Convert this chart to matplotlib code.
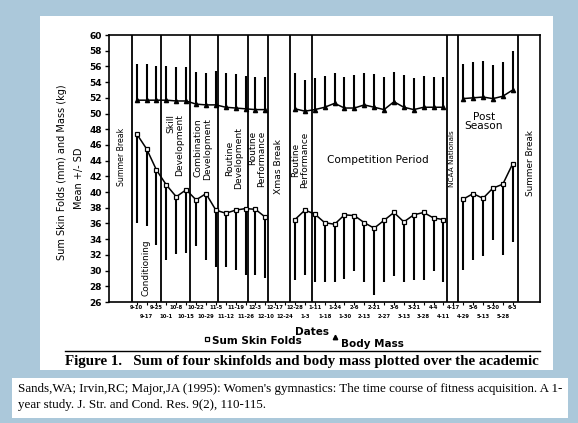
import matplotlib.pyplot as plt
import numpy as np
from matplotlib.patches import Rectangle
from matplotlib.lines import Line2D

W, H = 578, 423
nan = np.nan

# weekly measurement dates (gaps = no testing)
dates = ['9-10', '9-17', '9-25', '10-1', '10-8', '10-15', '10-22', '10-29',
         '11-5', '11-12', '11-19', '11-26', '12-3', '12-10', '12-17', '12-24',
         '12-28', '1-3', '1-11', '1-18', '1-24', '1-30', '2-6', '2-13', '2-21',
         '2-27', '3-6', '3-13', '3-21', '3-28', '4-4', '4-11', '4-17', '4-29',
         '5-6', '5-13', '5-20', '5-28', '6-3']

skinfold_mean = [47.4, 45.5, 42.8, 40.9, 39.4, 40.3, 39.0, 39.8, 37.7, 37.3,
                 37.7, 37.9, 37.8, 36.8, nan, nan, 36.5, 37.7, 37.2, 36.1,
                 35.9, 37.1, 37.0, 36.1, 35.4, 36.4, 37.4, 36.2, 37.1, 37.4,
                 36.7, 36.5, nan, 39.1, 39.8, 39.2, 40.5, 41.0, 43.6]
skinfold_sd = [11.4, 9.8, 9.5, 9.5, 7.3, 8.1, 5.9, 8.4, 7.2, 6.9,
               7.6, 8.4, 8.3, 7.8, nan, nan, 7.7, 8.2, 8.6, 7.5,
               7.3, 8.2, 7.1, 7.5, 8.5, 7.8, 8.1, 7.6, 8.3, 8.6,
               6.8, 7.9, nan, 9.0, 8.4, 7.3, 6.6, 9.0, 10.0]

mass_mean = [51.7, 51.7, 51.7, 51.7, 51.6, 51.6, 51.2, 51.1, 51.1, 50.8,
             50.7, 50.6, 50.5, 50.5, nan, nan, 50.6, 50.3, 50.5, 50.8,
             51.3, 50.7, 50.7, 51.1, 50.8, 50.5, 51.5, 50.8, 50.5, 50.8,
             50.8, 50.8, nan, 51.9, 52.0, 52.1, 51.9, 52.2, 53.0]
mass_sd = [4.6, 4.6, 4.4, 4.4, 4.3, 4.3, 4.1, 4.1, 4.3, 4.4,
           4.3, 4.2, 4.1, 4.1, nan, nan, 4.6, 4.0, 4.0, 4.0,
           3.8, 4.0, 4.2, 4.1, 4.2, 4.2, 3.8, 4.1, 4.0, 4.0,
           3.9, 3.9, nan, 4.4, 4.5, 4.6, 4.3, 4.4, 5.0]

# training phase boundaries (in week slots)
phase_edges = [-0.47, 2.46, 5.39, 8.22, 11.25, 13.27, 15.49, 17.71, 31.36, 32.47, 38.53]

NARROW = ['Liberation Sans Narrow', 'DejaVu Sans']


def fx(px):
    return px / W


def fy(py):
    return 1 - py / H


fig = plt.figure(figsize=(W / 100, H / 100), dpi=100, facecolor='#abc8da')

# white paper panels
fig.add_artist(Rectangle((fx(40), fy(370)), (553 - 40) / W, (370 - 16) / H,
                         transform=fig.transFigure, facecolor='white', edgecolor='none', zorder=0))
fig.add_artist(Rectangle((fx(12), fy(418)), (568 - 12) / W, (418 - 378) / H,
                         transform=fig.transFigure, facecolor='white', edgecolor='none', zorder=0))

ax = fig.add_axes([fx(109), fy(302), (540 - 109) / W, (302 - 35) / H])
ax.set_facecolor('white')

x = np.arange(len(dates))
sf = np.array(skinfold_mean)
sf_sd = np.array(skinfold_sd)
bm = np.array(mass_mean)
bm_sd = np.array(mass_sd)
ok = ~np.isnan(sf)

for e in phase_edges:
    ax.axvline(e, color='black', lw=1.3, zorder=1)

ax.vlines(x[ok], sf[ok] - sf_sd[ok], sf[ok], color='black', lw=1.5, zorder=2)
ax.vlines(x[ok], bm[ok], bm[ok] + bm_sd[ok], color='black', lw=1.5, zorder=2)
ax.plot(x, sf, color='black', lw=1.1, marker='s', ms=3.4, mfc='white', mec='black', mew=0.9, zorder=3)
ax.plot(x, bm, color='black', lw=1.1, marker='^', ms=3.0, mfc='black', mec='black', zorder=3)

phase_labels = [
    ('Summer Break', -1.49, 44.5, 5.6, 'center'),
    ('Conditioning', 0.94, 30.3, 6.4, 'center'),
    ('Skill\nDevelopment', 3.87, 46.0, 6.6, 'right'),
    ('Combination\nDevelopment', 6.7, 45.5, 6.6, 'right'),
    ('Routine\nDevelopment', 9.83, 44.3, 6.6, 'center'),
    ('Routine\nPerformance', 12.16, 44.2, 6.4, 'right'),
    ('Xmas Break', 14.3, 43.2, 6.6, 'center'),
    ('Routine\nPerformance', 16.5, 44.1, 6.4, 'center'),
    ('NCAA Nationals', 31.9, 44.3, 5.2, 'center'),
    ('Summer Break', 39.8, 43.7, 6.4, 'center'),
]
for txt, px_, py_, fs, ma in phase_labels:
    ax.text(px_, py_, txt, rotation=90, ha='center', va='center', multialignment=ma,
            fontsize=fs, family=NARROW, linespacing=1.0, zorder=4)
ax.text(24.4, 44.1, 'Competition Period', ha='center', va='center', fontsize=7.6, family=NARROW)
ax.text(35.1, 49.0, 'Post\nSeason', ha='center', va='center', fontsize=7.6, family=NARROW, linespacing=0.95)

ax.set_xlim(-2.8, 40.76)
ax.set_ylim(26, 60)
ax.set_yticks(np.arange(26, 61, 2))
ax.set_xticks(x[::2], dates[::2])
ax.set_xticks(x[1::2], dates[1::2], minor=True)
ax.tick_params(axis='y', length=3, width=1, pad=2, labelsize=6.5)
ax.tick_params(axis='x', which='major', length=2, width=0.8, pad=0.5, labelsize=3.8)
ax.tick_params(axis='x', which='minor', length=2, width=0.8, pad=6.5, labelsize=3.8)
for lab in ax.get_yticklabels() + ax.get_xticklabels() + ax.get_xticklabels(minor=True):
    lab.set_fontweight('bold')
for s in ax.spines.values():
    s.set_linewidth(1.2)

ax.set_xlabel('Dates', fontsize=7.5, fontweight='bold', family=NARROW)
ax.xaxis.set_label_coords((312 - 109) / 431, (302 - 332) / 267)
ax.xaxis.label.set_verticalalignment('center')

fig.text(fx(62), fy(172), 'Sum Skin Folds (mm) and Mass (kg)', rotation=90,
         ha='center', va='center', fontsize=7, family=NARROW)
fig.text(fx(79), fy(178), 'Mean +/- SD', rotation=90, ha='center', va='center',
         fontsize=7, family=NARROW)

# key below the axis
fig.add_artist(Line2D([fx(207)], [fy(339)], transform=fig.transFigure, ls='none', marker='s',
                      ms=3.0, mfc='white', mec='black', mew=0.9))
fig.text(fx(212), fy(341), 'Sum Skin Folds', ha='left', va='center', fontsize=7.5,
         fontweight='bold', family=NARROW)
fig.add_artist(Line2D([fx(335)], [fy(337)], transform=fig.transFigure, ls='none', marker='^',
                      ms=3.2, mfc='black', mec='black'))
fig.text(fx(341), fy(344), 'Body Mass', ha='left', va='center', fontsize=7.5,
         fontweight='bold', family=NARROW)

fig.add_artist(Line2D([fx(65), fx(540)], [fy(351), fy(351)], transform=fig.transFigure,
                      color='black', lw=1.0))
fig.text(fx(65), fy(361), 'Figure 1.   Sum of four skinfolds and body mass plotted over the academic',
         ha='left', va='center', fontsize=10.8, fontweight='bold', family='Liberation Serif')

fig.text(fx(18), fy(389), "Sands,WA; Irvin,RC; Major,JA (1995): Women's gymnastics: The time course "
         "of fitness acquisition. A 1-", ha='left', va='center', fontsize=9.4, family='Liberation Serif')
fig.text(fx(18), fy(405), 'year study. J. Str. and Cond. Res. 9(2), 110-115.',
         ha='left', va='center', fontsize=9.4, family='Liberation Serif')

fig.savefig('out.png', dpi=100, facecolor=fig.get_facecolor())
